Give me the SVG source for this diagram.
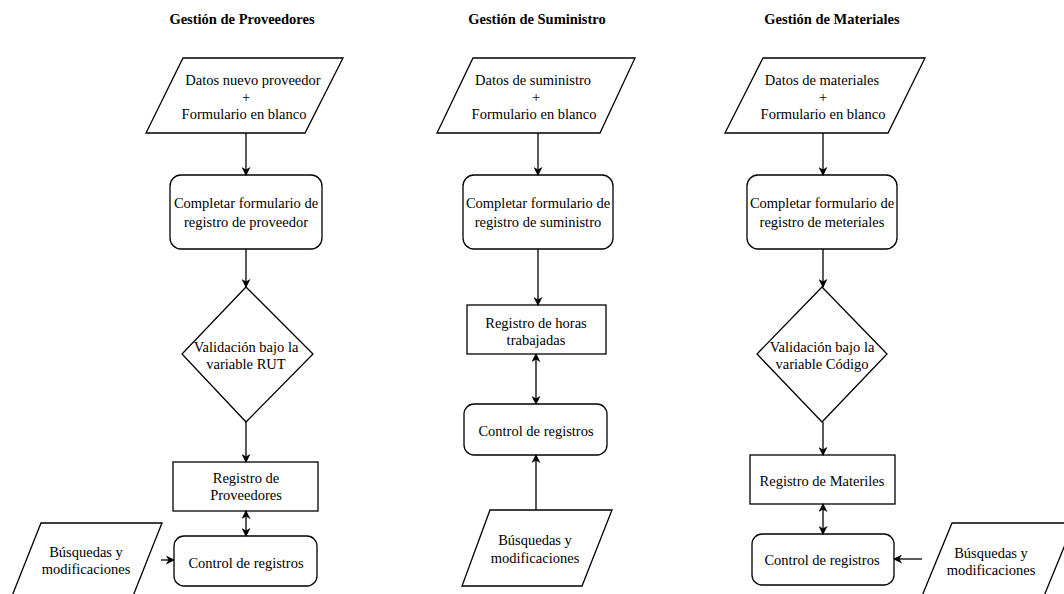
<svg xmlns="http://www.w3.org/2000/svg" width="1064" height="594" viewBox="0 0 1064 594">
<style>
.s{fill:#fff;stroke:#000;stroke-width:1.3}
.t{font-family:'Liberation Serif','Times New Roman','DejaVu Serif',serif;font-size:14.5px;fill:#000;text-anchor:middle}
.h{font-family:'Liberation Serif','Times New Roman','DejaVu Serif',serif;font-size:14.5px;font-weight:bold;fill:#000;text-anchor:middle}
.c{fill:none;stroke:#000;stroke-width:1.3}
</style>
<defs>
<marker id="a" viewBox="0 0 10 10" refX="9" refY="5" markerWidth="9" markerHeight="9" markerUnits="userSpaceOnUse" orient="auto-start-reverse">
<path d="M0,0 L10,5 L0,10 L3,5 z" fill="#000"/>
</marker>
</defs>
<rect width="1064" height="594" fill="#fff"/>
<text class="h" x="242" y="24">Gestión de Proveedores</text>
<text class="h" x="537" y="24">Gestión de Suministro</text>
<text class="h" x="832" y="24">Gestión de Materiales</text>

<g id="p1-in"><polygon class="s" points="183,58 343,58 305,133 146,133"/>
<text class="t" x="253" y="85">Datos nuevo proveedor</text><text class="t" x="246" y="102">+</text><text class="t" x="244" y="119">Formulario en blanco</text></g>
<g id="p1-form"><rect class="s" x="170" y="175" width="152" height="74" rx="11"/>
<text class="t" x="246" y="208">Completar formulario de</text><text class="t" x="246" y="227">registro de proveedor</text></g>
<g id="p1-val"><polygon class="s" points="246,287 313,354 246,422 182,354"/>
<text class="t" x="246" y="352">Validación bajo la</text><text class="t" x="246" y="369">variable RUT</text></g>
<g id="p1-reg"><rect class="s" x="173" y="462" width="145" height="49"/>
<text class="t" x="246" y="483">Registro de</text><text class="t" x="246" y="500">Proveedores</text></g>
<g id="p1-ctrl"><rect class="s" x="174" y="536" width="143" height="50" rx="10"/>
<text class="t" x="246" y="568">Control de registros</text></g>
<g id="p1-bus"><polygon class="s" points="41,523 162,523 133,596 12,596"/>
<text class="t" x="86" y="557">Búsquedas y</text><text class="t" x="86" y="574">modificaciones</text></g>

<g id="p2-in"><polygon class="s" points="473,58 635,58 600,133 437,133"/>
<text class="t" x="533" y="85">Datos de suministro</text><text class="t" x="536" y="102">+</text><text class="t" x="534" y="119">Formulario en blanco</text></g>
<g id="p2-form"><rect class="s" x="463" y="175" width="150" height="74" rx="11"/>
<text class="t" x="538" y="208">Completar formulario de</text><text class="t" x="538" y="227">registro de suministro</text></g>
<g id="p2-horas"><rect class="s" x="467" y="305" width="139" height="49"/>
<text class="t" x="536" y="328">Registro de horas</text><text class="t" x="536" y="345">trabajadas</text></g>
<g id="p2-ctrl"><rect class="s" x="464" y="404" width="143" height="51" rx="10"/>
<text class="t" x="536" y="436">Control de registros</text></g>
<g id="p2-bus"><polygon class="s" points="490,510 612,510 582,586 462,586"/>
<text class="t" x="535" y="545">Búsquedas y</text><text class="t" x="535" y="563">modificaciones</text></g>

<g id="p3-in"><polygon class="s" points="763,58 925,58 888,133 725,133"/>
<text class="t" x="822" y="85">Datos de materiales</text><text class="t" x="823" y="102">+</text><text class="t" x="823" y="119">Formulario en blanco</text></g>
<g id="p3-form"><rect class="s" x="747" y="175" width="150" height="74" rx="11"/>
<text class="t" x="822" y="208">Completar formulario de</text><text class="t" x="822" y="227">registro de meteriales</text></g>
<g id="p3-val"><polygon class="s" points="822,287 887,354 822,422 757,354"/>
<text class="t" x="822" y="352">Validación bajo la</text><text class="t" x="822" y="369">variable Código</text></g>
<g id="p3-reg"><rect class="s" x="750" y="455" width="145" height="49"/>
<text class="t" x="822" y="486">Registro de Materiles</text></g>
<g id="p3-ctrl"><rect class="s" x="752" y="534" width="142" height="51" rx="10"/>
<text class="t" x="822" y="565">Control de registros</text></g>
<g id="p3-bus"><polygon class="s" points="952,523 1074,523 1044,596 922,596"/>
<text class="t" x="991" y="558">Búsquedas y</text><text class="t" x="991" y="575">modificaciones</text></g>

<g id="connectors">
<line class="c" x1="246" y1="133" x2="246" y2="175" marker-end="url(#a)"/>
<line class="c" x1="246" y1="249" x2="246" y2="287" marker-end="url(#a)"/>
<line class="c" x1="246" y1="422" x2="246" y2="462" marker-end="url(#a)"/>
<line class="c" x1="246" y1="511" x2="246" y2="536" marker-start="url(#a)" marker-end="url(#a)"/>
<line class="c" x1="161" y1="560" x2="174" y2="560" marker-end="url(#a)"/>
<line class="c" x1="538" y1="133" x2="538" y2="175" marker-end="url(#a)"/>
<line class="c" x1="538" y1="249" x2="538" y2="305" marker-end="url(#a)"/>
<line class="c" x1="536" y1="354" x2="536" y2="404" marker-start="url(#a)" marker-end="url(#a)"/>
<line class="c" x1="536" y1="510" x2="536" y2="455" marker-end="url(#a)"/>
<line class="c" x1="823" y1="133" x2="823" y2="175" marker-end="url(#a)"/>
<line class="c" x1="823" y1="249" x2="823" y2="287" marker-end="url(#a)"/>
<line class="c" x1="823" y1="422" x2="823" y2="455" marker-end="url(#a)"/>
<line class="c" x1="823" y1="504" x2="823" y2="534" marker-start="url(#a)" marker-end="url(#a)"/>
<line class="c" x1="922" y1="559" x2="894" y2="559" marker-end="url(#a)"/>
</g>
</svg>
